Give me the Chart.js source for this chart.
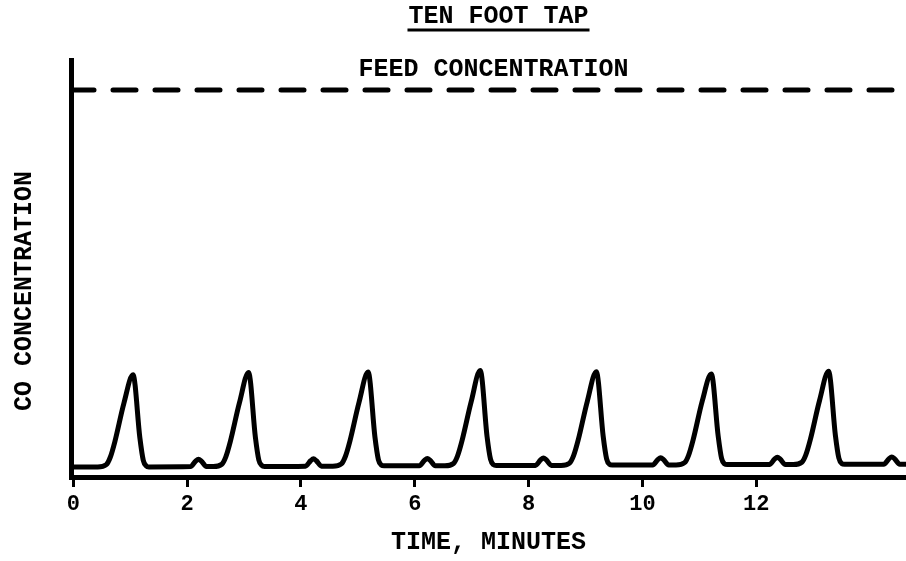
<!DOCTYPE html>
<html>
<head>
<meta charset="utf-8">
<title>Ten Foot Tap</title>
<script src="https://cdn.jsdelivr.net/npm/chart.js@4/dist/chart.umd.min.js"></script>
<style>
  html, body { margin: 0; padding: 0; background: #fff; }
  #wrap { width: 906px; height: 561px; }
</style>
</head>
<body>
<div id="wrap"><canvas id="tapChart" width="906" height="561"></canvas></div>
<script>
// Ten foot tap - CO concentration trace vs time
const chartTitle = 'TEN FOOT TAP';
const feedText = 'FEED CONCENTRATION';
const xTitle = 'TIME, MINUTES';
const yTitle = 'CO CONCENTRATION   '; // trailing pad pushes label down the axis

const xTicks = [0, 2, 4, 6, 8, 10, 12];
const xMin = -0.04;
const xMax = 14.63;
const yMax = 107.75;
const feedLevel = 100;

// trace (minutes, relative concentration)
const timeMin = [
  0, 0.43, 0.58, 0.65, 0.73, 0.89, 1.05, 1.17, 1.23, 1.28, 1.33,
  2.06, 2.15, 2.20, 2.25, 2.34,
  2.46, 2.61, 2.68, 2.76, 2.92, 3.08, 3.20, 3.26, 3.31, 3.36,
  4.08, 4.17, 4.22, 4.27, 4.36,
  4.56, 4.71, 4.78, 4.86, 5.02, 5.18, 5.30, 5.36, 5.41, 5.46,
  6.08, 6.17, 6.22, 6.27, 6.36,
  6.53, 6.68, 6.75, 6.83, 6.99, 7.15, 7.27, 7.33, 7.38, 7.43,
  8.12, 8.21, 8.26, 8.31, 8.40,
  8.57, 8.72, 8.79, 8.87, 9.03, 9.19, 9.31, 9.37, 9.42, 9.47,
  10.18, 10.27, 10.32, 10.37, 10.46,
  10.59, 10.74, 10.81, 10.89, 11.05, 11.21, 11.33, 11.39, 11.44, 11.49,
  12.23, 12.32, 12.37, 12.42, 12.51,
  12.65, 12.80, 12.87, 12.95, 13.11, 13.27, 13.39, 13.45, 13.50, 13.55,
  14.24, 14.33, 14.38, 14.43, 14.52, 14.63
];
const coLevel = [
  2.6, 2.6, 3.2, 5.1, 9.1, 19.1, 26.4, 10.1, 4.3, 2.9, 2.6,
  2.7, 4.1, 4.6, 4.1, 2.7,
  2.7, 3.3, 5.2, 9.2, 19.2, 27.0, 10.2, 4.4, 3.0, 2.7,
  2.8, 4.2, 4.7, 4.2, 2.8,
  2.8, 3.4, 5.3, 9.3, 19.3, 27.1, 10.3, 4.5, 3.1, 2.9,
  2.9, 4.3, 4.8, 4.3, 2.9,
  2.9, 3.5, 5.4, 9.4, 19.4, 27.5, 10.4, 4.6, 3.2, 3.0,
  3.0, 4.4, 4.9, 4.4, 3.0,
  3.0, 3.6, 5.5, 9.5, 19.5, 27.2, 10.5, 4.7, 3.3, 3.1,
  3.1, 4.5, 5.0, 4.5, 3.1,
  3.1, 3.7, 5.6, 9.6, 19.6, 26.6, 10.6, 4.8, 3.4, 3.2,
  3.2, 4.6, 5.1, 4.6, 3.2,
  3.2, 3.8, 5.7, 9.7, 19.7, 27.3, 10.7, 4.9, 3.5, 3.3,
  3.3, 4.7, 5.2, 4.7, 3.3, 3.3
];

const FONT = '"Liberation Mono", "DejaVu Sans Mono", monospace';

// underlined title above the plot, feed label sitting over the dashed line
const overlayText = {
  id: 'overlayText',
  afterDraw(chart) {
    const { ctx, chartArea, scales } = chart;
    const mid = (chartArea.left + chartArea.right) / 2;
    ctx.save();
    ctx.fillStyle = '#000';
    ctx.font = 'bold 25px ' + FONT;
    ctx.textAlign = 'center';
    ctx.textBaseline = 'middle';

    const cx = mid + 10;
    ctx.fillText(chartTitle, cx, 17);
    const w = ctx.measureText(chartTitle).width;
    ctx.fillRect(cx - w / 2 - 1, 28.5, w + 2, 3);

    ctx.fillText(feedText, mid + 5, scales.y.getPixelForValue(feedLevel) - 20);
    ctx.restore();
  }
};

new Chart(document.getElementById('tapChart').getContext('2d'), {
  type: 'line',
  data: {
    datasets: [
      {
        label: 'CO',
        data: timeMin.map((t, i) => ({ x: t, y: coLevel[i] })),
        borderColor: '#000',
        borderWidth: 5,
        pointRadius: 0,
        cubicInterpolationMode: 'monotone',
        borderCapStyle: 'round',
        borderJoinStyle: 'round',
        fill: false
      },
      {
        label: 'Feed',
        data: [{ x: xMin, y: feedLevel }, { x: xMax, y: feedLevel }],
        borderColor: '#000',
        borderWidth: 5,
        borderDash: [23, 19],
        borderCapStyle: 'round',
        pointRadius: 0,
        fill: false
      }
    ]
  },
  options: {
    responsive: false,
    animation: false,
    devicePixelRatio: 1,
    layout: { padding: { top: 60, left: 0, right: 0, bottom: 0 } },
    plugins: {
      legend: { display: false },
      tooltip: { enabled: false },
      title: { display: false }
    },
    scales: {
      x: {
        type: 'linear',
        min: xMin,
        max: xMax,
        afterBuildTicks: axis => {
          axis.ticks = xTicks.map(v => ({ value: v }));
        },
        afterFit: scale => { scale.height = 84; },
        ticks: {
          color: '#000',
          font: { family: FONT, size: 22, weight: 'bold' },
          padding: 4,
          maxRotation: 0
        },
        grid: {
          drawOnChartArea: false,
          drawTicks: true,
          tickLength: 10,
          tickWidth: 3,
          tickColor: '#000'
        },
        border: { display: true, width: 5, color: '#000' },
        title: {
          display: true,
          text: xTitle,
          color: '#000',
          font: { family: FONT, size: 25, weight: 'bold' },
          padding: { top: 0, bottom: 3 }
        }
      },
      y: {
        min: 0,
        max: yMax,
        afterFit: scale => { scale.width = 71; },
        ticks: { display: false },
        grid: { display: false, drawTicks: false },
        border: { display: true, width: 5, color: '#000' },
        title: {
          display: true,
          text: yTitle,
          color: '#000',
          font: { family: FONT, size: 25, weight: 'bold' },
          padding: { top: 10, bottom: 0 }
        }
      }
    }
  },
  plugins: [overlayText]
});
</script>
</body>
</html>
